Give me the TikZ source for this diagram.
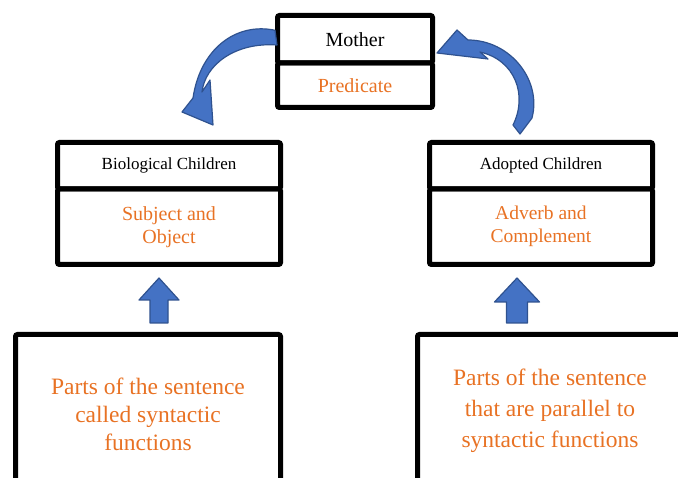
\documentclass[tikz,border=0pt]{standalone}
\usepackage{fontspec}
\setmainfont{LiberationSerif}[Extension=.ttf,UprightFont=*-Regular,BoldFont=*-Bold]
\usepackage{tikz}

\definecolor{txtorange}{RGB}{232,114,36}
\definecolor{arrowfill}{RGB}{68,114,196}
\definecolor{arrowline}{RGB}{47,82,143}

\tikzset{
  cell/.style={draw=black,line width=5pt,rounded corners=2pt,minimum width=#1,inner sep=0pt,align=center},
  bigcell/.style={draw=black,line width=5pt,rounded corners=2pt,inner sep=0pt,align=center},
  blockarrow/.style={fill=arrowfill,draw=arrowline,line width=1.2pt,line join=round}
}

\begin{document}
\begin{tikzpicture}[x=1pt,y=-1pt]
      \useasboundingbox (0,0) rectangle (678,478);
      \clip (0,0) rectangle (678,478);
      % mother box
      \node[cell=155pt,minimum height=47.5pt,font=\fontsize{20}{24}\selectfont] (mother) at (355,39.25) {Mother};
      \node[cell=155pt,minimum height=44.5pt,font=\fontsize{20}{24}\selectfont,text=txtorange] (pred) at (355,85.25) {Predicate};
      % children boxes
      \node[cell=223pt,minimum height=46.5pt,font=\fontsize{17}{20}\selectfont] (bio) at (169,165.75) {Biological Children};
      \node[cell=223pt,minimum height=75.5pt,font=\fontsize{20}{23}\selectfont,text=txtorange] (subj) at (169,226.75) {Subject and\\Object};
      \node[cell=223pt,minimum height=46.5pt,font=\fontsize{17}{20}\selectfont] (adopt) at (541,165.75) {Adopted Children};
      \node[cell=223pt,minimum height=75.5pt,font=\fontsize{19.5}{23}\selectfont,text=txtorange] (adv) at (541,226.75) {Adverb and\\Complement};
      % bottom boxes
      \node[bigcell,minimum width=265pt,minimum height=159pt,font=\fontsize{23.5}{28}\selectfont,text=txtorange] (partsL) at (148,414) {Parts of the sentence\\called syntactic\\functions};
      \node[bigcell,minimum width=265pt,minimum height=153pt,font=\fontsize{23.5}{31}\selectfont,text=txtorange] (partsR) at (550,411) {Parts of the sentence\\that are parallel to\\syntactic functions};
      % block arrows
      \coordinate (la) at (159,323);
      \coordinate (ra) at (517,323);
      \draw[blockarrow] (la) ++(-9,0) -- ++(0,-23) -- ++(-11,0) -- (159,278) -- (179,300) -- ++(-11,0) -- ++(0,23) -- cycle;
      \draw[blockarrow] (ra) ++(-10.5,0) -- ++(0,-21) -- ++(-12,0) -- (517,278) -- (539.5,302) -- ++(-12,0) -- ++(0,21) -- cycle;
      % curved arrows
      \draw[blockarrow] (mother.west) ++(0,-9) .. controls (235,22) and (200,50) .. (193,98) -- (182,112) -- (213,125) -- (210,80) -- (202,92)
            .. controls (205,65) and (235,42) .. (277,45) -- cycle;
      \draw[blockarrow] (468,40) .. controls (510,40) and (542,80) .. (532,118) -- (520,134) -- (513,125)
            .. controls (528,95) and (515,60) .. (480,52) -- (488,59) -- (437,53) -- (457,30) -- cycle;
\end{tikzpicture}
\end{document}
